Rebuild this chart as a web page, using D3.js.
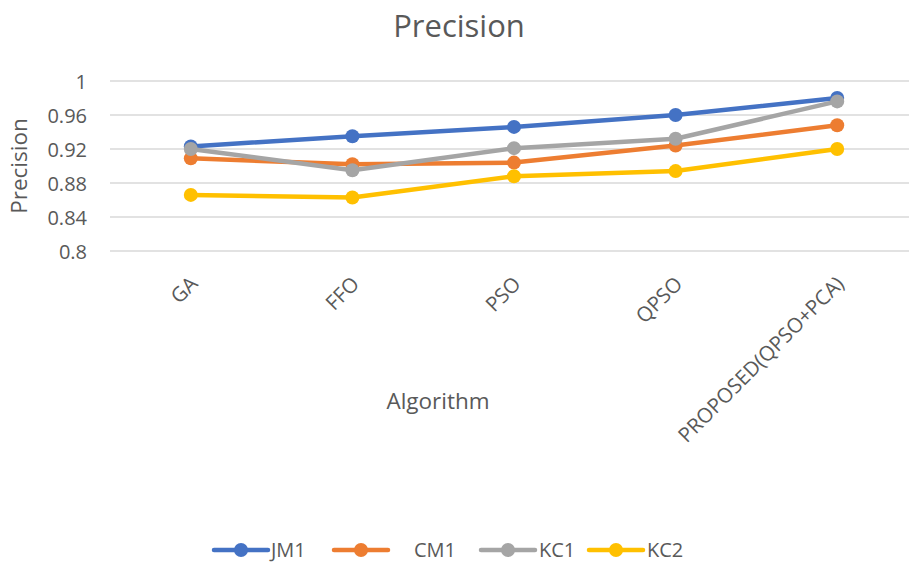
<!DOCTYPE html>
<html><head><meta charset="utf-8">
<script src="https://cdn.jsdelivr.net/npm/d3@7"></script>
<style>body{margin:0;background:#fff;} svg{display:block;} text{font-family:"Open Sans","Noto Sans",sans-serif;fill:#595959;}</style>
</head><body>
<svg id="c" width="909" height="567"></svg>
<script>
const categories = ["GA","FFO","PSO","QPSO","PROPOSED(QPSO+PCA)"];
const seriesNames = ["JM1","CM1","KC1","KC2"];
const jm1 = [0.923,0.935,0.946,0.960,0.980];
const cm1 = [0.909,0.902,0.904,0.924,0.948];
const kc1 = [0.920,0.895,0.921,0.932,0.976];
const kc2 = [0.866,0.863,0.888,0.894,0.920];
const yTicks = [0.8,0.84,0.88,0.92,0.96,1];
const colors = ["#4472C4","#ED7D31","#A5A5A5","#FFC000"];
const seriesValues = [jm1,cm1,kc1,kc2];

const svg = d3.select("#c");
const x = d3.scalePoint().domain(categories).range([110,918]).padding(0.5);
const y = d3.scaleLinear().domain([0.8,1]).range([251,81]);

// gridlines
svg.append("g").selectAll("line").data(yTicks).join("line")
  .attr("x1",110).attr("x2",909).attr("y1",d=>y(d)).attr("y2",d=>y(d))
  .attr("stroke","#d9d9d9").attr("stroke-width",1.5);

// y axis labels
const yAxis = d3.axisLeft(y).tickValues(yTicks).tickFormat(d=>d3.format("~g")(d)).tickSize(0).tickPadding(0);
const yg = svg.append("g").attr("transform","translate(87,0)").call(yAxis);
yg.select(".domain").remove();
yg.selectAll("text").attr("font-size",20).style("fill","#595959").attr("font-family",null).attr("dy","0.35em");

// x axis labels
const xAxis = d3.axisBottom(x).tickSize(0).tickPadding(0);
const xg = svg.append("g").call(xAxis);
xg.select(".domain").remove();
xg.selectAll(".tick").attr("transform",d=>`translate(${x(d)-2},275)`);
xg.selectAll("text").attr("font-size",20.5).style("fill","#595959").attr("font-family",null)
  .attr("text-anchor","end").attr("dy","0.7em").attr("y",0).attr("transform","rotate(-45)");

// lines
const line = d3.line().x((d,i)=>x(categories[i])).y(d=>y(d));
seriesValues.forEach((vals,si)=>{
  svg.append("path").datum(vals).attr("d",line).attr("fill","none")
    .attr("stroke",colors[si]).attr("stroke-width",4.5).attr("stroke-linejoin","round").attr("stroke-linecap","round");
  svg.append("g").selectAll("circle").data(vals).join("circle")
    .attr("cx",(d,i)=>x(categories[i])).attr("cy",d=>y(d)).attr("r",7).attr("fill",colors[si]);
});

// titles
svg.append("text").attr("x",459).attr("y",37).attr("text-anchor","middle").attr("font-size",31).text("Precision");
svg.append("text").attr("transform","translate(27,166) rotate(-90)").attr("text-anchor","middle").attr("font-size",22.5).text("Precision");
svg.append("text").attr("x",438).attr("y",409).attr("text-anchor","middle").attr("font-size",22.5).text("Algorithm");

// legend
const legendX = [214,334,481,589];
const legendTextX = [271,414,539,647];
seriesNames.forEach((n,i)=>{
  const g = svg.append("g");
  g.append("line").attr("x1",legendX[i]).attr("x2",legendX[i]+54).attr("y1",550).attr("y2",550)
    .attr("stroke",colors[i]).attr("stroke-width",4.5).attr("stroke-linecap","round");
  g.append("circle").attr("cx",legendX[i]+27).attr("cy",550).attr("r",7).attr("fill",colors[i]);
  g.append("text").attr("x",legendTextX[i]).attr("y",550).attr("dy","0.35em").attr("font-size",20).text(n);
});
</script>
</body></html>
